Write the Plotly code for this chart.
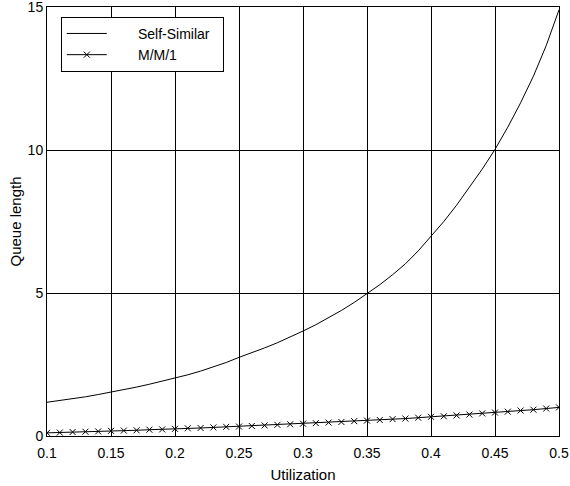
import plotly.graph_objects as go

utilization = [0.10, 0.11, 0.12, 0.13, 0.14, 0.15, 0.16, 0.17, 0.18, 0.19,
               0.20, 0.21, 0.22, 0.23, 0.24, 0.25, 0.26, 0.27, 0.28, 0.29,
               0.30, 0.31, 0.32, 0.33, 0.34, 0.35, 0.36, 0.37, 0.38, 0.39,
               0.40, 0.41, 0.42, 0.43, 0.44, 0.45, 0.46, 0.47, 0.48, 0.49, 0.50]

self_similar = [1.18, 1.24, 1.31, 1.37, 1.45, 1.53, 1.62, 1.71, 1.81, 1.92,
                2.02, 2.14, 2.27, 2.41, 2.57, 2.75, 2.91, 3.08, 3.26, 3.46,
                3.67, 3.89, 4.13, 4.39, 4.67, 4.97, 5.29, 5.64, 6.02, 6.47,
                6.97, 7.50, 8.07, 8.68, 9.33, 10.02, 10.80, 11.65, 12.58, 13.65, 14.9]

mm1 = [0.11, 0.12, 0.14, 0.15, 0.16, 0.18, 0.19, 0.20, 0.22, 0.23,
       0.25, 0.27, 0.28, 0.30, 0.32, 0.33, 0.35, 0.37, 0.39, 0.41,
       0.43, 0.45, 0.47, 0.49, 0.52, 0.54, 0.56, 0.59, 0.61, 0.64,
       0.67, 0.69, 0.72, 0.75, 0.79, 0.82, 0.85, 0.89, 0.92, 0.96, 1.00]

x_ticks = [0.1, 0.15, 0.2, 0.25, 0.3, 0.35, 0.4, 0.45, 0.5]
x_tick_labels = ["0.1", "0.15", "0.2", "0.25", "0.3", "0.35", "0.4", "0.45", "0.5"]
y_ticks = [0, 5, 10, 15]
y_tick_labels = ["0", "5", "10", "15"]

FONT = "Liberation Sans, Arial, sans-serif"
pad = "\u00a0" * 6 + "\u2009"
tail = "\u00a0" * 2

fig = go.Figure()
fig.add_trace(go.Scatter(
    x=utilization, y=self_similar, mode="lines", name=pad + "Self-Similar" + tail,
    line=dict(color="black", width=1)))
fig.add_trace(go.Scatter(
    x=utilization, y=mm1, mode="lines+markers", name=pad + "M/M/1",
    line=dict(color="black", width=1),
    marker=dict(symbol="x-thin", size=6, line=dict(color="black", width=1), color="black")))

axis_common = dict(
    showline=True, linecolor="black", linewidth=1, mirror="ticks",
    ticks="inside", ticklen=5, tickcolor="black",
    showgrid=True, gridcolor="black", gridwidth=1,
    zeroline=False, automargin=False, ticklabeloverflow="allow",
    tickfont=dict(family=FONT, size=14, color="black"),
)

fig.update_xaxes(range=[0.1, 0.5], tickvals=x_ticks, ticktext=x_tick_labels,
                 ticklabelstandoff=4,
                 title=dict(text="Utilization", font=dict(family=FONT, size=15, color="black"), standoff=9),
                 **axis_common)
fig.update_yaxes(range=[0, 15], tickvals=y_ticks, ticktext=y_tick_labels,
                 title=dict(text="Queue length", font=dict(family=FONT, size=15, color="black"), standoff=2),
                 **axis_common)

fig.update_layout(
    width=570, height=486,
    margin=dict(l=47, r=11, t=7, b=50),
    plot_bgcolor="white", paper_bgcolor="white",
    font=dict(family=FONT, size=14, color="black"),
    showlegend=True,
    legend=dict(x=0.027, y=0.977, xanchor="left", yanchor="top",
                bgcolor="white", bordercolor="black", borderwidth=1,
                font=dict(family=FONT, size=14, color="black"),
                tracegroupgap=0, itemwidth=40),
)

fig.write_html("out.html", config={"displayModeBar": False},
               post_script="document.body.style.margin='0';document.body.style.overflow='hidden';")
